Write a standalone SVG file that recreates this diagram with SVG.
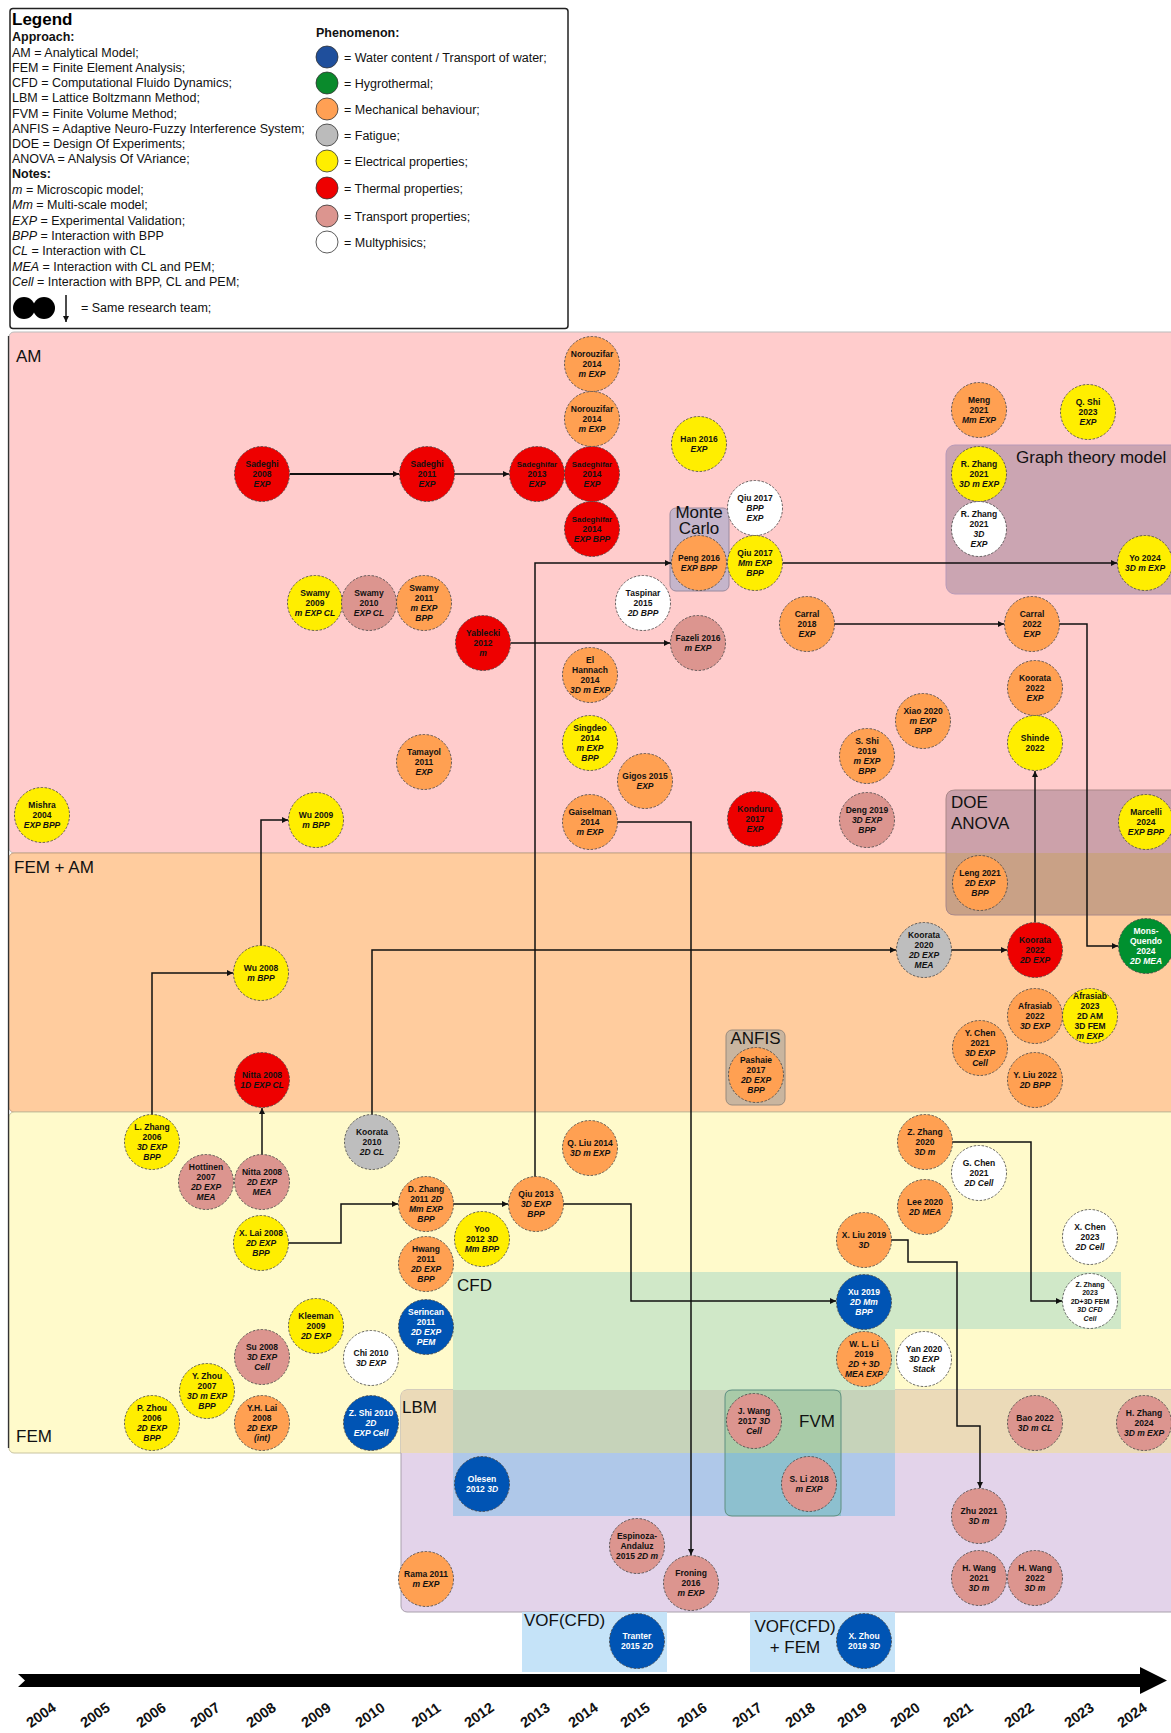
<svg xmlns="http://www.w3.org/2000/svg" width="1171" height="1733" viewBox="0 0 1171 1733">
<style>
text{font-family:"Liberation Sans",Arial,sans-serif}
.lg{font-size:12.5px;fill:#111}
.b{font-weight:bold}
.i{font-style:italic}
.lbl{font-size:17px;fill:#111}
.yr{font-size:14.5px;font-weight:bold;fill:#111;text-anchor:middle}
.n circle{stroke:#444;stroke-width:0.8;stroke-dasharray:2.5 1.5}
.t{font-size:8.5px;font-weight:bold;text-anchor:middle;fill:#111}
.tn{font-size:7.8px}
.ts{font-size:7px}
.w{fill:#fff}
.blue{fill:#0054B4}.green{fill:#00902F}.orange{fill:#FFA052}.gray{fill:#BEBEBE}
.yellow{fill:#FFEE00}.red{fill:#EE0000}.trans{fill:#DC958F}.white{fill:#FFFFFF}
.lc{stroke:#333;stroke-width:0.8}
.cn path{fill:none;stroke:#111;stroke-width:1.5;marker-end:url(#ah)}
</style>
<defs>
<marker id="ah" viewBox="0 0 6 6" refX="6" refY="3" markerWidth="6" markerHeight="6" markerUnits="userSpaceOnUse" orient="auto"><path d="M0,0 L6,3 L0,6 z" fill="#111"/></marker>
</defs>
<rect width="1171" height="1733" fill="#fff"/>

<!-- Legend -->
<g id="legend">
<rect x="10" y="8.5" width="558" height="320" rx="3" fill="#fff" stroke="#222" stroke-width="1.5"/>
<text x="12" y="25" class="b" font-size="17">Legend</text>
<text class="lg b" x="12" y="41">Approach:</text>
<text class="lg" x="12" y="56.5">AM = Analytical Model;</text>
<text class="lg" x="12" y="72">FEM = Finite Element Analysis;</text>
<text class="lg" x="12" y="87">CFD = Computational Fluido Dynamics;</text>
<text class="lg" x="12" y="102">LBM = Lattice Boltzmann Method;</text>
<text class="lg" x="12" y="117.5">FVM = Finite Volume Method;</text>
<text class="lg" x="12" y="132.5">ANFIS = Adaptive Neuro-Fuzzy Interference System;</text>
<text class="lg" x="12" y="148">DOE = Design Of Experiments;</text>
<text class="lg" x="12" y="163">ANOVA = ANalysis Of VAriance;</text>
<text class="lg b" x="12" y="178">Notes:</text>
<text class="lg" x="12" y="194"><tspan class="i">m</tspan> = Microscopic model;</text>
<text class="lg" x="12" y="209"><tspan class="i">Mm</tspan> = Multi-scale model;</text>
<text class="lg" x="12" y="224.5"><tspan class="i">EXP</tspan> = Experimental Validation;</text>
<text class="lg" x="12" y="240"><tspan class="i">BPP</tspan> = Interaction with BPP</text>
<text class="lg" x="12" y="255"><tspan class="i">CL</tspan> = Interaction with CL</text>
<text class="lg" x="12" y="270.5"><tspan class="i">MEA</tspan> = Interaction with CL and PEM;</text>
<text class="lg" x="12" y="286"><tspan class="i">Cell</tspan> = Interaction with BPP, CL and PEM;</text>
<circle cx="24" cy="308" r="11" fill="#000"/>
<circle cx="44" cy="308" r="11" fill="#000"/>
<line x1="66" y1="295" x2="66" y2="322" stroke="#111" stroke-width="1.5" marker-end="url(#ah)"/>
<text class="lg" x="81" y="312">= Same research team;</text>
<text class="lg b" x="316" y="37">Phenomenon:</text>
<circle cx="327" cy="57" r="11" fill="#1F4F9C" class="lc"/>
<text class="lg" x="344" y="61.5">= Water content / Transport of water;</text>
<circle cx="327" cy="83" r="11" fill="#0A8A2C" class="lc"/>
<text class="lg" x="344" y="87.5">= Hygrothermal;</text>
<circle cx="327" cy="109" r="11" fill="#FFA054" class="lc"/>
<text class="lg" x="344" y="113.5">= Mechanical behaviour;</text>
<circle cx="327" cy="135" r="11" fill="#BBBBBB" class="lc"/>
<text class="lg" x="344" y="139.5">= Fatigue;</text>
<circle cx="327" cy="161" r="11" fill="#FFEE00" class="lc"/>
<text class="lg" x="344" y="165.5">= Electrical properties;</text>
<circle cx="327" cy="188" r="11" fill="#EE0000" class="lc"/>
<text class="lg" x="344" y="192.5">= Thermal properties;</text>
<circle cx="327" cy="216" r="11" fill="#DC958F" class="lc"/>
<text class="lg" x="344" y="220.5">= Transport properties;</text>
<circle cx="327" cy="242" r="11" fill="#FFFFFF" class="lc"/>
<text class="lg" x="344" y="246.5">= Multyphisics;</text>
</g>

<!-- Bands -->
<g id="bands">
<rect x="9" y="332" width="1170" height="521" rx="5" fill="#FFCCCC" stroke="#bbb" stroke-width="1"/>
<rect x="9" y="853" width="1170" height="259" rx="5" fill="#FFCC9E" stroke="#c9a080" stroke-width="1"/>
<rect x="9" y="1112" width="1170" height="341" rx="5" fill="#FFFACB" stroke="#c8c4a0" stroke-width="1"/>
<line x1="8.5" y1="336" x2="8.5" y2="1448" stroke="#333" stroke-width="1.3"/>
</g>

<!-- Method boxes -->
<g id="box-graph">
<rect x="946" y="445" width="235" height="149" rx="9" fill="#CBA5B2" stroke="#b89ab8" stroke-width="1"/>
<text class="lbl" x="1016" y="463" font-size="16.5">Graph theory model</text>
</g>
<g id="box-doe">
<path d="M955,790 H1180 V915 H955 Q946,915 946,906 V799 Q946,790 955,790 Z" fill="#CCA1AA"/>
<path d="M946,853 H1180 V915 H955 Q946,915 946,906 Z" fill="#C9A186"/>
<path d="M955,790 H1180 V915 H955 Q946,915 946,906 V799 Q946,790 955,790 Z" fill="none" stroke="#a88" stroke-width="1"/>
<text class="lbl" x="951" y="808">DOE</text>
<text class="lbl" x="951" y="829">ANOVA</text>
</g>
<g id="box-montecarlo">
<rect x="670" y="508" width="59" height="83" rx="6" fill="#C5B5CB" stroke="#9a8a9e" stroke-width="1"/>
<text class="lbl" x="699" y="518" font-size="12.5" text-anchor="middle">Monte</text>
<text class="lbl" x="699" y="534" font-size="12.5" text-anchor="middle">Carlo</text>
</g>
<g id="box-anfis">
<rect x="726" y="1030" width="59" height="75" rx="6" fill="#C9B59F" stroke="#998a7c" stroke-width="1"/>
<text class="lbl" x="755.5" y="1044" font-size="16.5" text-anchor="middle">ANFIS</text>
</g>

<g id="box-lbm">
<rect x="401" y="1390" width="780" height="222" rx="6" fill="#E3D3EA" stroke="#a9a0ac" stroke-width="1"/>
<path d="M407,1390 H1180 V1453 H401 V1396 Q401,1390 407,1390 Z" fill="#EBDAB8"/>
<text class="lbl" x="402" y="1413" font-size="16.5">LBM</text>
</g>
<g id="box-cfd">
<path d="M453,1272 H1121 V1329 H895 V1390 H453 Z" fill="#D0E8C8"/>
<rect x="453" y="1390" width="442" height="63" fill="#C6D3BA"/>
<rect x="453" y="1453" width="442" height="63" fill="#AFC8E9"/>
<text class="lbl" x="457" y="1291">CFD</text>
</g>
<g id="box-fvm">
<path d="M732,1390 H841 V1516 H732 Q725,1516 725,1509 V1397 Q725,1390 732,1390 Z" fill="#8DC0CF"/>
<path d="M732,1390 H841 V1453 H725 V1397 Q725,1390 732,1390 Z" fill="#A9CBA8"/>
<path d="M732,1390 H834 Q841,1390 841,1397 V1509 Q841,1516 834,1516 H732 Q725,1516 725,1509 V1397 Q725,1390 732,1390 Z" fill="none" stroke="#5f8f80" stroke-width="1"/>
<text class="lbl" x="799" y="1427" font-size="16.5">FVM</text>
</g>
<g id="box-vof1">
<rect x="522" y="1612" width="145" height="60" fill="#C5E3F8"/>
<text class="lbl" x="524" y="1626">VOF(CFD)</text>
</g>
<g id="box-vof2">
<rect x="750" y="1612" width="145" height="60" fill="#C5E3F8"/>
<text class="lbl" x="795" y="1632" text-anchor="middle">VOF(CFD)</text>
<text class="lbl" x="795" y="1653" text-anchor="middle">+ FEM</text>
</g>

<g id="band-labels">
<text class="lbl" x="16" y="362">AM</text>
<text class="lbl" x="14" y="873">FEM + AM</text>
<text class="lbl" x="16" y="1442" font-size="18">FEM</text>
</g>

<!-- Connectors -->
<g id="connectors" class="cn">
<path d="M290,474 H399" style="stroke-width:2"/>
<path d="M454,474 H509"/>
<path d="M511,643 H670"/>
<path d="M535,1177 V563 H671"/>
<path d="M783,563 H1117"/>
<path d="M834,624 H1004"/>
<path d="M1059,624 H1087 V946 H1118"/>
<path d="M1035,922 V771"/>
<path d="M951,950 H1007"/>
<path d="M372,1115 V950 H896"/>
<path d="M152,1115 V973 H233"/>
<path d="M261,946 V820 H288"/>
<path d="M262,1155 V1108"/>
<path d="M288,1243 H341 V1204 H398"/>
<path d="M453,1204 H508"/>
<path d="M563,1204 H631 V1301 H836"/>
<path d="M617,822 H691 V1555"/>
<path d="M952,1142 H1031 V1301 H1062"/>
<path d="M891,1240 H908 V1262 H957 V1426 H980 V1488"/>
</g>

<!-- Nodes -->
<g id="n-sadeghi2008" class="n" transform="translate(262,474)"><circle r="27.5" class="red"/><text class="t"><tspan x="0" y="-7">Sadeghi</tspan><tspan x="0" y="3">2008</tspan><tspan x="0" y="13" class="i">EXP</tspan></text></g>
<g id="n-sadeghi2011" class="n" transform="translate(427,474)"><circle r="27.5" class="red"/><text class="t"><tspan x="0" y="-7">Sadeghi</tspan><tspan x="0" y="3">2011</tspan><tspan x="0" y="13" class="i">EXP</tspan></text></g>
<g id="n-sadeghifar2013" class="n" transform="translate(537,474)"><circle r="27.5" class="red"/><text class="t"><tspan x="0" y="-7" class="tn">Sadeghifar</tspan><tspan x="0" y="3">2013</tspan><tspan x="0" y="13" class="i">EXP</tspan></text></g>
<g id="n-sadeghifar2014a" class="n" transform="translate(592,474)"><circle r="27.5" class="red"/><text class="t"><tspan x="0" y="-7" class="tn">Sadeghifar</tspan><tspan x="0" y="3">2014</tspan><tspan x="0" y="13" class="i">EXP</tspan></text></g>
<g id="n-sadeghifar2014b" class="n" transform="translate(592,529)"><circle r="27.5" class="red"/><text class="t"><tspan x="0" y="-7" class="tn">Sadeghifar</tspan><tspan x="0" y="3">2014</tspan><tspan x="0" y="13" class="i">EXP BPP</tspan></text></g>
<g id="n-norouzifar2014a" class="n" transform="translate(592,364)"><circle r="27.5" class="orange"/><text class="t"><tspan x="0" y="-7">Norouzifar</tspan><tspan x="0" y="3">2014</tspan><tspan x="0" y="13" class="i">m EXP</tspan></text></g>
<g id="n-norouzifar2014b" class="n" transform="translate(592,419)"><circle r="27.5" class="orange"/><text class="t"><tspan x="0" y="-7">Norouzifar</tspan><tspan x="0" y="3">2014</tspan><tspan x="0" y="13" class="i">m EXP</tspan></text></g>
<g id="n-han2016" class="n" transform="translate(699,444)"><circle r="27.5" class="yellow"/><text class="t"><tspan x="0" y="-2">Han 2016</tspan><tspan x="0" y="8" class="i">EXP</tspan></text></g>
<g id="n-qiu2017a" class="n" transform="translate(755,508)"><circle r="27.5" class="white"/><text class="t"><tspan x="0" y="-7">Qiu 2017</tspan><tspan x="0" y="3" class="i">BPP</tspan><tspan x="0" y="13" class="i">EXP</tspan></text></g>
<g id="n-peng2016" class="n" transform="translate(699,563)"><circle r="27.5" class="orange"/><text class="t"><tspan x="0" y="-2">Peng 2016</tspan><tspan x="0" y="8" class="i">EXP BPP</tspan></text></g>
<g id="n-qiu2017b" class="n" transform="translate(755,563)"><circle r="27.5" class="yellow"/><text class="t"><tspan x="0" y="-7">Qiu 2017</tspan><tspan x="0" y="3" class="i">Mm EXP</tspan><tspan x="0" y="13" class="i">BPP</tspan></text></g>
<g id="n-swamy2009" class="n" transform="translate(315,603)"><circle r="27.5" class="yellow"/><text class="t"><tspan x="0" y="-7">Swamy</tspan><tspan x="0" y="3">2009</tspan><tspan x="0" y="13" class="i">m EXP CL</tspan></text></g>
<g id="n-swamy2010" class="n" transform="translate(369,603)"><circle r="27.5" class="trans"/><text class="t"><tspan x="0" y="-7">Swamy</tspan><tspan x="0" y="3">2010</tspan><tspan x="0" y="13" class="i">EXP CL</tspan></text></g>
<g id="n-swamy2011" class="n" transform="translate(424,603)"><circle r="27.5" class="orange"/><text class="t"><tspan x="0" y="-12">Swamy</tspan><tspan x="0" y="-2">2011</tspan><tspan x="0" y="8" class="i">m EXP</tspan><tspan x="0" y="18" class="i">BPP</tspan></text></g>
<g id="n-taspinar2015" class="n" transform="translate(643,603)"><circle r="27.5" class="white"/><text class="t"><tspan x="0" y="-7">Taspinar</tspan><tspan x="0" y="3">2015</tspan><tspan x="0" y="13" class="i">2D BPP</tspan></text></g>
<g id="n-yablecki2012" class="n" transform="translate(483,643)"><circle r="27.5" class="red"/><text class="t"><tspan x="0" y="-7">Yablecki</tspan><tspan x="0" y="3">2012</tspan><tspan x="0" y="13" class="i">m</tspan></text></g>
<g id="n-fazeli2016" class="n" transform="translate(698,643)"><circle r="27.5" class="trans"/><text class="t"><tspan x="0" y="-2">Fazeli 2016</tspan><tspan x="0" y="8" class="i">m EXP</tspan></text></g>
<g id="n-elhannach2014" class="n" transform="translate(590,675)"><circle r="27.5" class="orange"/><text class="t"><tspan x="0" y="-12">El</tspan><tspan x="0" y="-2">Hannach</tspan><tspan x="0" y="8">2014</tspan><tspan x="0" y="18" class="i">3D m EXP</tspan></text></g>
<g id="n-singdeo2014" class="n" transform="translate(590,743)"><circle r="27.5" class="yellow"/><text class="t"><tspan x="0" y="-12">Singdeo</tspan><tspan x="0" y="-2">2014</tspan><tspan x="0" y="8" class="i">m EXP</tspan><tspan x="0" y="18" class="i">BPP</tspan></text></g>
<g id="n-tamayol2011" class="n" transform="translate(424,762)"><circle r="27.5" class="orange"/><text class="t"><tspan x="0" y="-7">Tamayol</tspan><tspan x="0" y="3">2011</tspan><tspan x="0" y="13" class="i">EXP</tspan></text></g>
<g id="n-gigos2015" class="n" transform="translate(645,781)"><circle r="27.5" class="orange"/><text class="t"><tspan x="0" y="-2">Gigos 2015</tspan><tspan x="0" y="8" class="i">EXP</tspan></text></g>
<g id="n-gaiselman2014" class="n" transform="translate(590,822)"><circle r="27.5" class="orange"/><text class="t"><tspan x="0" y="-7">Gaiselman</tspan><tspan x="0" y="3">2014</tspan><tspan x="0" y="13" class="i">m EXP</tspan></text></g>
<g id="n-konduru2017" class="n" transform="translate(755,819)"><circle r="27.5" class="red"/><text class="t"><tspan x="0" y="-7">Konduru</tspan><tspan x="0" y="3">2017</tspan><tspan x="0" y="13" class="i">EXP</tspan></text></g>
<g id="n-mishra2004" class="n" transform="translate(42,815)"><circle r="27.5" class="yellow"/><text class="t"><tspan x="0" y="-7">Mishra</tspan><tspan x="0" y="3">2004</tspan><tspan x="0" y="13" class="i">EXP BPP</tspan></text></g>
<g id="n-wu2009" class="n" transform="translate(316,820)"><circle r="27.5" class="yellow"/><text class="t"><tspan x="0" y="-2">Wu 2009</tspan><tspan x="0" y="8" class="i">m BPP</tspan></text></g>
<g id="n-carral2018" class="n" transform="translate(807,624)"><circle r="27.5" class="orange"/><text class="t"><tspan x="0" y="-7">Carral</tspan><tspan x="0" y="3">2018</tspan><tspan x="0" y="13" class="i">EXP</tspan></text></g>
<g id="n-carral2022" class="n" transform="translate(1032,624)"><circle r="27.5" class="orange"/><text class="t"><tspan x="0" y="-7">Carral</tspan><tspan x="0" y="3">2022</tspan><tspan x="0" y="13" class="i">EXP</tspan></text></g>
<g id="n-meng2021" class="n" transform="translate(979,410)"><circle r="27.5" class="orange"/><text class="t"><tspan x="0" y="-7">Meng</tspan><tspan x="0" y="3">2021</tspan><tspan x="0" y="13" class="i">Mm EXP</tspan></text></g>
<g id="n-qshi2023" class="n" transform="translate(1088,412)"><circle r="27.5" class="yellow"/><text class="t"><tspan x="0" y="-7">Q. Shi</tspan><tspan x="0" y="3">2023</tspan><tspan x="0" y="13" class="i">EXP</tspan></text></g>
<g id="n-rzhang2021a" class="n" transform="translate(979,474)"><circle r="27.5" class="yellow"/><text class="t"><tspan x="0" y="-7">R. Zhang</tspan><tspan x="0" y="3">2021</tspan><tspan x="0" y="13" class="i">3D m EXP</tspan></text></g>
<g id="n-rzhang2021b" class="n" transform="translate(979,529)"><circle r="27.5" class="white"/><text class="t"><tspan x="0" y="-12">R. Zhang</tspan><tspan x="0" y="-2">2021</tspan><tspan x="0" y="8" class="i">3D</tspan><tspan x="0" y="18" class="i">EXP</tspan></text></g>
<g id="n-yo2024" class="n" transform="translate(1145,563)"><circle r="27.5" class="yellow"/><text class="t"><tspan x="0" y="-2">Yo 2024</tspan><tspan x="0" y="8" class="i">3D m EXP</tspan></text></g>
<g id="n-koorata2022exp" class="n" transform="translate(1035,688)"><circle r="27.5" class="orange"/><text class="t"><tspan x="0" y="-7">Koorata</tspan><tspan x="0" y="3">2022</tspan><tspan x="0" y="13" class="i">EXP</tspan></text></g>
<g id="n-shinde2022" class="n" transform="translate(1035,743)"><circle r="27.5" class="yellow"/><text class="t"><tspan x="0" y="-2">Shinde</tspan><tspan x="0" y="8">2022</tspan></text></g>
<g id="n-xiao2020" class="n" transform="translate(923,721)"><circle r="27.5" class="orange"/><text class="t"><tspan x="0" y="-7">Xiao 2020</tspan><tspan x="0" y="3" class="i">m EXP</tspan><tspan x="0" y="13" class="i">BPP</tspan></text></g>
<g id="n-sshi2019" class="n" transform="translate(867,756)"><circle r="27.5" class="orange"/><text class="t"><tspan x="0" y="-12">S. Shi</tspan><tspan x="0" y="-2">2019</tspan><tspan x="0" y="8" class="i">m EXP</tspan><tspan x="0" y="18" class="i">BPP</tspan></text></g>
<g id="n-deng2019" class="n" transform="translate(867,820)"><circle r="27.5" class="trans"/><text class="t"><tspan x="0" y="-7">Deng 2019</tspan><tspan x="0" y="3" class="i">3D EXP</tspan><tspan x="0" y="13" class="i">BPP</tspan></text></g>
<g id="n-marcelli2024" class="n" transform="translate(1146,822)"><circle r="27.5" class="yellow"/><text class="t"><tspan x="0" y="-7">Marcelli</tspan><tspan x="0" y="3">2024</tspan><tspan x="0" y="13" class="i">EXP BPP</tspan></text></g>

<g id="n-wu2008" class="n" transform="translate(261,973)"><circle r="27.5" class="yellow"/><text class="t"><tspan x="0" y="-2">Wu 2008</tspan><tspan x="0" y="8" class="i">m BPP</tspan></text></g>
<g id="n-nitta2008a" class="n" transform="translate(262,1080)"><circle r="27.5" class="red"/><text class="t"><tspan x="0" y="-2">Nitta 2008</tspan><tspan x="0" y="8" class="i">1D EXP CL</tspan></text></g>
<g id="n-pashaie2017" class="n" transform="translate(756,1075)"><circle r="27.5" class="orange"/><text class="t"><tspan x="0" y="-12">Pashaie</tspan><tspan x="0" y="-2">2017</tspan><tspan x="0" y="8" class="i">2D EXP</tspan><tspan x="0" y="18" class="i">BPP</tspan></text></g>
<g id="n-leng2021" class="n" transform="translate(980,883)"><circle r="27.5" class="orange"/><text class="t"><tspan x="0" y="-7">Leng 2021</tspan><tspan x="0" y="3" class="i">2D EXP</tspan><tspan x="0" y="13" class="i">BPP</tspan></text></g>
<g id="n-koorata2020" class="n" transform="translate(924,950)"><circle r="27.5" class="gray"/><text class="t"><tspan x="0" y="-12">Koorata</tspan><tspan x="0" y="-2">2020</tspan><tspan x="0" y="8" class="i">2D EXP</tspan><tspan x="0" y="18" class="i">MEA</tspan></text></g>
<g id="n-koorata2022" class="n" transform="translate(1035,950)"><circle r="27.5" class="red"/><text class="t"><tspan x="0" y="-7">Koorata</tspan><tspan x="0" y="3">2022</tspan><tspan x="0" y="13" class="i">2D EXP</tspan></text></g>
<g id="n-monsquendo2024" class="n" transform="translate(1146,946)"><circle r="27.5" class="green"/><text class="t w"><tspan x="0" y="-12">Mons-</tspan><tspan x="0" y="-2">Quendo</tspan><tspan x="0" y="8">2024</tspan><tspan x="0" y="18" class="i">2D MEA</tspan></text></g>
<g id="n-afrasiab2022" class="n" transform="translate(1035,1016)"><circle r="27.5" class="orange"/><text class="t"><tspan x="0" y="-7">Afrasiab</tspan><tspan x="0" y="3">2022</tspan><tspan x="0" y="13" class="i">3D EXP</tspan></text></g>
<g id="n-afrasiab2023" class="n" transform="translate(1090,1016)"><circle r="27.5" class="yellow"/><text class="t"><tspan x="0" y="-17">Afrasiab</tspan><tspan x="0" y="-7">2023</tspan><tspan x="0" y="3">2D AM</tspan><tspan x="0" y="13">3D FEM</tspan><tspan x="0" y="23" class="i">m EXP</tspan></text></g>
<g id="n-ychen2021" class="n" transform="translate(980,1048)"><circle r="27.5" class="orange"/><text class="t"><tspan x="0" y="-12">Y. Chen</tspan><tspan x="0" y="-2">2021</tspan><tspan x="0" y="8" class="i">3D EXP</tspan><tspan x="0" y="18" class="i">Cell</tspan></text></g>
<g id="n-yliu2022" class="n" transform="translate(1035,1080)"><circle r="27.5" class="orange"/><text class="t"><tspan x="0" y="-2">Y. Liu 2022</tspan><tspan x="0" y="8" class="i">2D BPP</tspan></text></g>

<g id="n-lzhang2006" class="n" transform="translate(152,1142)"><circle r="27.5" class="yellow"/><text class="t"><tspan x="0" y="-12">L. Zhang</tspan><tspan x="0" y="-2">2006</tspan><tspan x="0" y="8" class="i">3D EXP</tspan><tspan x="0" y="18" class="i">BPP</tspan></text></g>
<g id="n-hottinen2007" class="n" transform="translate(206,1182)"><circle r="27.5" class="trans"/><text class="t"><tspan x="0" y="-12">Hottinen</tspan><tspan x="0" y="-2">2007</tspan><tspan x="0" y="8" class="i">2D EXP</tspan><tspan x="0" y="18" class="i">MEA</tspan></text></g>
<g id="n-nitta2008b" class="n" transform="translate(262,1182)"><circle r="27.5" class="trans"/><text class="t"><tspan x="0" y="-7">Nitta 2008</tspan><tspan x="0" y="3" class="i">2D EXP</tspan><tspan x="0" y="13" class="i">MEA</tspan></text></g>
<g id="n-koorata2010" class="n" transform="translate(372,1142)"><circle r="27.5" class="gray"/><text class="t"><tspan x="0" y="-7">Koorata</tspan><tspan x="0" y="3">2010</tspan><tspan x="0" y="13" class="i">2D CL</tspan></text></g>
<g id="n-xlai2008" class="n" transform="translate(261,1243)"><circle r="27.5" class="yellow"/><text class="t"><tspan x="0" y="-7">X. Lai 2008</tspan><tspan x="0" y="3" class="i">2D EXP</tspan><tspan x="0" y="13" class="i">BPP</tspan></text></g>
<g id="n-qliu2014" class="n" transform="translate(590,1148)"><circle r="27.5" class="orange"/><text class="t"><tspan x="0" y="-2">Q. Liu 2014</tspan><tspan x="0" y="8" class="i">3D m EXP</tspan></text></g>
<g id="n-dzhang2011" class="n" transform="translate(426,1204)"><circle r="27.5" class="orange"/><text class="t"><tspan x="0" y="-12">D. Zhang</tspan><tspan x="0" y="-2">2011 <tspan class="i">2D</tspan></tspan><tspan x="0" y="8" class="i">Mm EXP</tspan><tspan x="0" y="18" class="i">BPP</tspan></text></g>
<g id="n-qiu2013" class="n" transform="translate(536,1204)"><circle r="27.5" class="orange"/><text class="t"><tspan x="0" y="-7">Qiu 2013</tspan><tspan x="0" y="3" class="i">3D EXP</tspan><tspan x="0" y="13" class="i">BPP</tspan></text></g>
<g id="n-yoo2012" class="n" transform="translate(482,1239)"><circle r="27.5" class="yellow"/><text class="t"><tspan x="0" y="-7">Yoo</tspan><tspan x="0" y="3">2012 <tspan class="i">3D</tspan></tspan><tspan x="0" y="13" class="i">Mm BPP</tspan></text></g>
<g id="n-hwang2011" class="n" transform="translate(426,1264)"><circle r="27.5" class="orange"/><text class="t"><tspan x="0" y="-12">Hwang</tspan><tspan x="0" y="-2">2011</tspan><tspan x="0" y="8" class="i">2D EXP</tspan><tspan x="0" y="18" class="i">BPP</tspan></text></g>
<g id="n-kleeman2009" class="n" transform="translate(316,1326)"><circle r="27.5" class="yellow"/><text class="t"><tspan x="0" y="-7">Kleeman</tspan><tspan x="0" y="3">2009</tspan><tspan x="0" y="13" class="i">2D EXP</tspan></text></g>
<g id="n-su2008" class="n" transform="translate(262,1357)"><circle r="27.5" class="trans"/><text class="t"><tspan x="0" y="-7">Su 2008</tspan><tspan x="0" y="3" class="i">3D EXP</tspan><tspan x="0" y="13" class="i">Cell</tspan></text></g>
<g id="n-chi2010" class="n" transform="translate(371,1358)"><circle r="27.5" class="white"/><text class="t"><tspan x="0" y="-2">Chi 2010</tspan><tspan x="0" y="8" class="i">3D EXP</tspan></text></g>
<g id="n-yzhou2007" class="n" transform="translate(207,1391)"><circle r="27.5" class="yellow"/><text class="t"><tspan x="0" y="-12">Y. Zhou</tspan><tspan x="0" y="-2">2007</tspan><tspan x="0" y="8" class="i">3D m EXP</tspan><tspan x="0" y="18" class="i">BPP</tspan></text></g>
<g id="n-pzhou2006" class="n" transform="translate(152,1423)"><circle r="27.5" class="yellow"/><text class="t"><tspan x="0" y="-12">P. Zhou</tspan><tspan x="0" y="-2">2006</tspan><tspan x="0" y="8" class="i">2D EXP</tspan><tspan x="0" y="18" class="i">BPP</tspan></text></g>
<g id="n-yhlai2008" class="n" transform="translate(262,1423)"><circle r="27.5" class="orange"/><text class="t"><tspan x="0" y="-12">Y.H. Lai</tspan><tspan x="0" y="-2">2008</tspan><tspan x="0" y="8" class="i">2D EXP</tspan><tspan x="0" y="18" class="i">(int)</tspan></text></g>
<g id="n-zshi2010" class="n" transform="translate(371,1423)"><circle r="27.5" class="blue"/><text class="t w"><tspan x="0" y="-7">Z. Shi 2010</tspan><tspan x="0" y="3" class="i">2D</tspan><tspan x="0" y="13" class="i">EXP  Cell</tspan></text></g>
<g id="n-serincan2011" class="n" transform="translate(426,1327)"><circle r="27.5" class="blue"/><text class="t w"><tspan x="0" y="-12">Serincan</tspan><tspan x="0" y="-2">2011</tspan><tspan x="0" y="8" class="i">2D EXP</tspan><tspan x="0" y="18" class="i">PEM</tspan></text></g>
<g id="n-zzhang2020" class="n" transform="translate(925,1142)"><circle r="27.5" class="orange"/><text class="t"><tspan x="0" y="-7">Z. Zhang</tspan><tspan x="0" y="3">2020</tspan><tspan x="0" y="13" class="i">3D m</tspan></text></g>
<g id="n-gchen2021" class="n" transform="translate(979,1173)"><circle r="27.5" class="white"/><text class="t"><tspan x="0" y="-7">G. Chen</tspan><tspan x="0" y="3">2021</tspan><tspan x="0" y="13" class="i">2D Cell</tspan></text></g>
<g id="n-lee2020" class="n" transform="translate(925,1207)"><circle r="27.5" class="orange"/><text class="t"><tspan x="0" y="-2">Lee 2020</tspan><tspan x="0" y="8" class="i">2D MEA</tspan></text></g>
<g id="n-xliu2019" class="n" transform="translate(864,1240)"><circle r="27.5" class="orange"/><text class="t"><tspan x="0" y="-2">X. Liu 2019</tspan><tspan x="0" y="8" class="i">3D</tspan></text></g>
<g id="n-xchen2023" class="n" transform="translate(1090,1237)"><circle r="27.5" class="white"/><text class="t"><tspan x="0" y="-7">X. Chen</tspan><tspan x="0" y="3">2023</tspan><tspan x="0" y="13" class="i">2D Cell</tspan></text></g>
<g id="n-xu2019" class="n" transform="translate(864,1302)"><circle r="27.5" class="blue"/><text class="t w"><tspan x="0" y="-7">Xu 2019</tspan><tspan x="0" y="3" class="i">2D Mm</tspan><tspan x="0" y="13" class="i">BPP</tspan></text></g>
<g id="n-zzhang2023" class="n" transform="translate(1090,1301)"><circle r="27.5" class="white"/><text class="t ts"><tspan x="0" y="-14.5">Z. Zhang</tspan><tspan x="0" y="-6">2023</tspan><tspan x="0" y="2.5">2D+3D FEM</tspan><tspan x="0" y="11" class="i">3D CFD</tspan><tspan x="0" y="19.5" class="i">Cell</tspan></text></g>
<g id="n-wlli2019" class="n" transform="translate(864,1359)"><circle r="27.5" class="orange"/><text class="t"><tspan x="0" y="-12">W. L. Li</tspan><tspan x="0" y="-2">2019</tspan><tspan x="0" y="8" class="i">2D + 3D</tspan><tspan x="0" y="18" class="i">MEA EXP</tspan></text></g>
<g id="n-yan2020" class="n" transform="translate(924,1359)"><circle r="27.5" class="white"/><text class="t"><tspan x="0" y="-7">Yan 2020</tspan><tspan x="0" y="3" class="i">3D EXP</tspan><tspan x="0" y="13" class="i">Stack</tspan></text></g>

<g id="n-jwang2017" class="n" transform="translate(754,1421)"><circle r="27.5" class="trans"/><text class="t"><tspan x="0" y="-7">J. Wang</tspan><tspan x="0" y="3">2017 <tspan class="i">3D</tspan></tspan><tspan x="0" y="13" class="i">Cell</tspan></text></g>
<g id="n-sli2018" class="n" transform="translate(809,1484)"><circle r="27.5" class="trans"/><text class="t"><tspan x="0" y="-2">S. Li 2018</tspan><tspan x="0" y="8" class="i">m EXP</tspan></text></g>
<g id="n-bao2022" class="n" transform="translate(1035,1423)"><circle r="27.5" class="trans"/><text class="t"><tspan x="0" y="-2">Bao 2022</tspan><tspan x="0" y="8" class="i">3D m CL</tspan></text></g>
<g id="n-hzhang2024" class="n" transform="translate(1144,1423)"><circle r="27.5" class="trans"/><text class="t"><tspan x="0" y="-7">H. Zhang</tspan><tspan x="0" y="3">2024</tspan><tspan x="0" y="13" class="i">3D m EXP</tspan></text></g>
<g id="n-olesen2012" class="n" transform="translate(482,1484)"><circle r="27.5" class="blue"/><text class="t w"><tspan x="0" y="-2">Olesen</tspan><tspan x="0" y="8">2012 <tspan class="i">3D</tspan></tspan></text></g>
<g id="n-espinoza2015" class="n" transform="translate(637,1546)"><circle r="27.5" class="trans"/><text class="t"><tspan x="0" y="-7">Espinoza-</tspan><tspan x="0" y="3">Andaluz</tspan><tspan x="0" y="13">2015 <tspan class="i">2D m</tspan></tspan></text></g>
<g id="n-froning2016" class="n" transform="translate(691,1583)"><circle r="27.5" class="trans"/><text class="t"><tspan x="0" y="-7">Froning</tspan><tspan x="0" y="3">2016</tspan><tspan x="0" y="13" class="i">m EXP</tspan></text></g>
<g id="n-rama2011" class="n" transform="translate(426,1579)"><circle r="27.5" class="orange"/><text class="t"><tspan x="0" y="-2">Rama 2011</tspan><tspan x="0" y="8" class="i">m EXP</tspan></text></g>
<g id="n-zhu2021" class="n" transform="translate(979,1516)"><circle r="27.5" class="trans"/><text class="t"><tspan x="0" y="-2">Zhu 2021</tspan><tspan x="0" y="8" class="i">3D m</tspan></text></g>
<g id="n-hwang2021" class="n" transform="translate(979,1578)"><circle r="27.5" class="trans"/><text class="t"><tspan x="0" y="-7">H. Wang</tspan><tspan x="0" y="3">2021</tspan><tspan x="0" y="13" class="i">3D m</tspan></text></g>
<g id="n-hwang2022" class="n" transform="translate(1035,1578)"><circle r="27.5" class="trans"/><text class="t"><tspan x="0" y="-7">H. Wang</tspan><tspan x="0" y="3">2022</tspan><tspan x="0" y="13" class="i">3D m</tspan></text></g>
<g id="n-tranter2015" class="n" transform="translate(637,1641)"><circle r="27.5" class="blue"/><text class="t w"><tspan x="0" y="-2">Tranter</tspan><tspan x="0" y="8">2015 <tspan class="i">2D</tspan></tspan></text></g>
<g id="n-xzhou2019" class="n" transform="translate(864,1641)"><circle r="27.5" class="blue"/><text class="t w"><tspan x="0" y="-2">X. Zhou</tspan><tspan x="0" y="8">2019 <tspan class="i">3D</tspan></tspan></text></g>

<!-- Timeline -->
<g id="timeline">
<polygon points="18,1674 1140,1674 1140,1667 1167,1680.5 1140,1694 1140,1687 18,1687 25,1680.5" fill="#000"/>
<g transform="translate(41,1715) rotate(-35)"><text class="yr" y="5">2004</text></g>
<g transform="translate(95,1715) rotate(-35)"><text class="yr" y="5">2005</text></g>
<g transform="translate(151,1715) rotate(-35)"><text class="yr" y="5">2006</text></g>
<g transform="translate(205,1715) rotate(-35)"><text class="yr" y="5">2007</text></g>
<g transform="translate(261,1715) rotate(-35)"><text class="yr" y="5">2008</text></g>
<g transform="translate(316,1715) rotate(-35)"><text class="yr" y="5">2009</text></g>
<g transform="translate(370,1715) rotate(-35)"><text class="yr" y="5">2010</text></g>
<g transform="translate(426,1715) rotate(-35)"><text class="yr" y="5">2011</text></g>
<g transform="translate(479,1715) rotate(-35)"><text class="yr" y="5">2012</text></g>
<g transform="translate(535,1715) rotate(-35)"><text class="yr" y="5">2013</text></g>
<g transform="translate(583,1715) rotate(-35)"><text class="yr" y="5">2014</text></g>
<g transform="translate(635,1715) rotate(-35)"><text class="yr" y="5">2015</text></g>
<g transform="translate(692,1715) rotate(-35)"><text class="yr" y="5">2016</text></g>
<g transform="translate(747,1715) rotate(-35)"><text class="yr" y="5">2017</text></g>
<g transform="translate(800,1715) rotate(-35)"><text class="yr" y="5">2018</text></g>
<g transform="translate(852,1715) rotate(-35)"><text class="yr" y="5">2019</text></g>
<g transform="translate(905,1715) rotate(-35)"><text class="yr" y="5">2020</text></g>
<g transform="translate(958,1715) rotate(-35)"><text class="yr" y="5">2021</text></g>
<g transform="translate(1019,1715) rotate(-35)"><text class="yr" y="5">2022</text></g>
<g transform="translate(1079,1715) rotate(-35)"><text class="yr" y="5">2023</text></g>
<g transform="translate(1132,1715) rotate(-35)"><text class="yr" y="5">2024</text></g>
</g>
</svg>
